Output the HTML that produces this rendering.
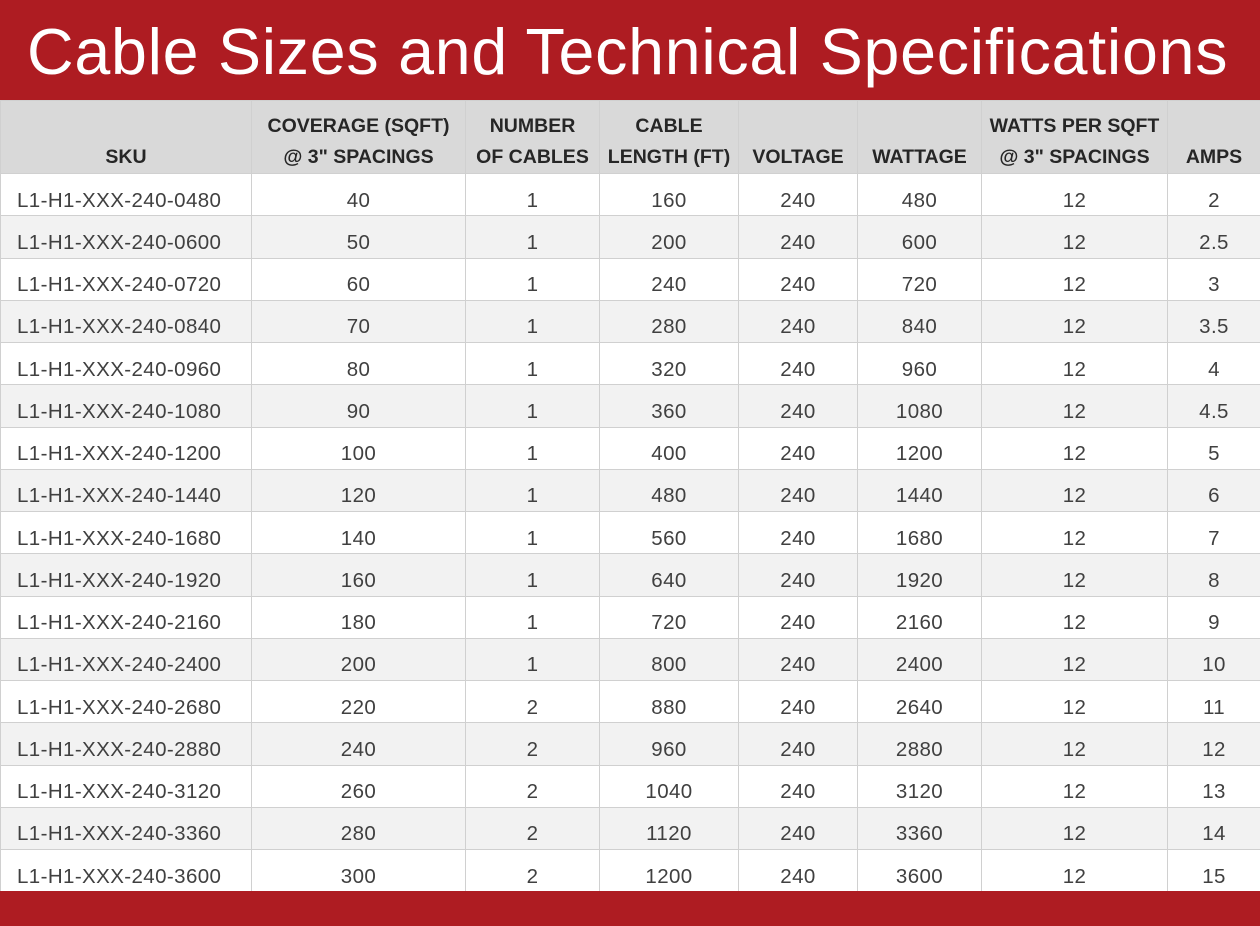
<!DOCTYPE html>
<html><head><meta charset="utf-8"><style>
html,body{margin:0;padding:0;width:1260px;height:926px;overflow:hidden;background:#fff;font-family:"Liberation Sans",Arial,sans-serif}
.top{position:absolute;left:0;top:0;width:1260px;height:100px;background:#ae1c22;color:#fff;font-size:64.5px;line-height:104px;padding-left:27px;box-sizing:border-box;white-space:nowrap;letter-spacing:0.75px}
.bot{position:absolute;left:0;top:891px;width:1260px;height:35px;background:#ae1c22}
table{position:absolute;left:0;top:100px;border-collapse:collapse;table-layout:fixed;width:1260px}
td{border:1px solid #d0d0d0;text-align:center;font-size:20.5px;color:#404040;height:42.25px;padding:0;padding-top:12px;box-sizing:border-box;letter-spacing:0.4px}
tr.h td{background:#d9d9d9;height:73px;font-weight:bold;color:#262626;vertical-align:bottom;padding:0;font-size:19.5px;line-height:31px;letter-spacing:0}
tr:nth-child(odd):not(.h) td{background:#f2f2f2}
td:first-child{text-align:left;padding-left:16px}
tr.h td:first-child{text-align:center;padding-left:0}
</style></head><body>
<div class="top">Cable Sizes and Technical Specifications</div>
<table>
<colgroup><col style="width:251px"><col style="width:214px"><col style="width:134px"><col style="width:139px"><col style="width:119px"><col style="width:124px"><col style="width:186px"><col style="width:93px"></colgroup>
<tr class="h"><td>SKU</td><td>COVERAGE (SQFT)<br>@ 3" SPACINGS</td><td>NUMBER<br>OF CABLES</td><td>CABLE<br>LENGTH (FT)</td><td>VOLTAGE</td><td>WATTAGE</td><td>WATTS PER SQFT<br>@ 3" SPACINGS</td><td>AMPS</td></tr>
<tr><td>L1-H1-XXX-240-0480</td><td>40</td><td>1</td><td>160</td><td>240</td><td>480</td><td>12</td><td>2</td></tr>
<tr><td>L1-H1-XXX-240-0600</td><td>50</td><td>1</td><td>200</td><td>240</td><td>600</td><td>12</td><td>2.5</td></tr>
<tr><td>L1-H1-XXX-240-0720</td><td>60</td><td>1</td><td>240</td><td>240</td><td>720</td><td>12</td><td>3</td></tr>
<tr><td>L1-H1-XXX-240-0840</td><td>70</td><td>1</td><td>280</td><td>240</td><td>840</td><td>12</td><td>3.5</td></tr>
<tr><td>L1-H1-XXX-240-0960</td><td>80</td><td>1</td><td>320</td><td>240</td><td>960</td><td>12</td><td>4</td></tr>
<tr><td>L1-H1-XXX-240-1080</td><td>90</td><td>1</td><td>360</td><td>240</td><td>1080</td><td>12</td><td>4.5</td></tr>
<tr><td>L1-H1-XXX-240-1200</td><td>100</td><td>1</td><td>400</td><td>240</td><td>1200</td><td>12</td><td>5</td></tr>
<tr><td>L1-H1-XXX-240-1440</td><td>120</td><td>1</td><td>480</td><td>240</td><td>1440</td><td>12</td><td>6</td></tr>
<tr><td>L1-H1-XXX-240-1680</td><td>140</td><td>1</td><td>560</td><td>240</td><td>1680</td><td>12</td><td>7</td></tr>
<tr><td>L1-H1-XXX-240-1920</td><td>160</td><td>1</td><td>640</td><td>240</td><td>1920</td><td>12</td><td>8</td></tr>
<tr><td>L1-H1-XXX-240-2160</td><td>180</td><td>1</td><td>720</td><td>240</td><td>2160</td><td>12</td><td>9</td></tr>
<tr><td>L1-H1-XXX-240-2400</td><td>200</td><td>1</td><td>800</td><td>240</td><td>2400</td><td>12</td><td>10</td></tr>
<tr><td>L1-H1-XXX-240-2680</td><td>220</td><td>2</td><td>880</td><td>240</td><td>2640</td><td>12</td><td>11</td></tr>
<tr><td>L1-H1-XXX-240-2880</td><td>240</td><td>2</td><td>960</td><td>240</td><td>2880</td><td>12</td><td>12</td></tr>
<tr><td>L1-H1-XXX-240-3120</td><td>260</td><td>2</td><td>1040</td><td>240</td><td>3120</td><td>12</td><td>13</td></tr>
<tr><td>L1-H1-XXX-240-3360</td><td>280</td><td>2</td><td>1120</td><td>240</td><td>3360</td><td>12</td><td>14</td></tr>
<tr><td>L1-H1-XXX-240-3600</td><td>300</td><td>2</td><td>1200</td><td>240</td><td>3600</td><td>12</td><td>15</td></tr>
</table>
<div class="bot"></div>
</body></html>
